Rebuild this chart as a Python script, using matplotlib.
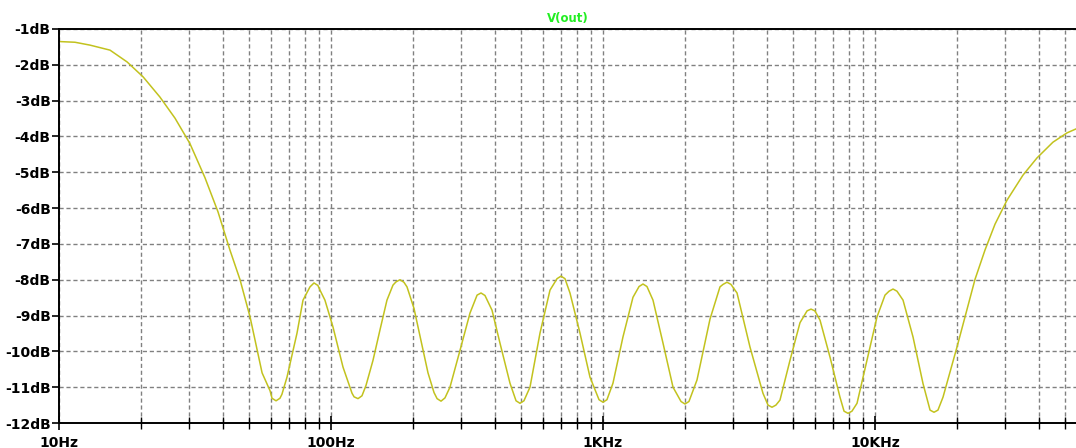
import matplotlib
matplotlib.use("Agg")
import matplotlib.pyplot as plt
from matplotlib.ticker import FixedLocator, FuncFormatter, LogLocator, NullFormatter

# frequency response
freq_hz = [10, 11.45, 13.0, 15.4, 17.8, 20.4, 23.5, 26.7, 30.3, 34.4, 38.4,
           42.5, 46.3, 50.4, 55.8, 59.7, 60.7, 62.8, 64.9, 66.0, 68.9, 75.0, 78.9, 83.7,
           86.6, 89.5, 91.1, 95.0, 101.7, 110.7, 119.5, 121.6, 125.7, 130.0, 134.5, 142.7, 151.4,
           160.6, 169.0, 173.4, 179.3, 185.4, 190.3, 201.9, 214.2, 227.3, 239.2, 245.5, 253.8,
           262.4, 273.8, 298.1, 324.4, 344.4, 356.1, 368.2, 390.8, 418.1, 455.1, 479.0, 495.3,
           512.1, 539.0, 586.7, 638.5, 677.8, 700.9, 724.7, 756.2, 823.0, 895.7, 967, 1000,
           1034, 1088, 1184, 1289, 1357, 1403, 1451, 1527, 1662, 1809, 1936, 2002, 2070,
           2216, 2474, 2692, 2763, 2857, 2954, 3110, 3471, 3874, 4043, 4181, 4323, 4474,
           4870, 5300, 5626, 5817, 6015, 6280, 6833, 7436, 7695, 7957, 8228, 8589,
           9346, 10170, 10885, 11267, 11650, 12046, 12680, 13800, 15016, 15938, 16480, 17040,
           17783, 20020, 23320, 25380, 27620, 30570, 35000, 39400, 45110, 50810, 54830]
v_out_db = [-1.35, -1.37, -1.45, -1.59, -1.92, -2.34, -2.9, -3.49, -4.2, -5.15, -6.1,
            -7.17, -8.0, -9.04, -10.6, -11.1, -11.31, -11.38, -11.31, -11.2, -10.72, -9.49, -8.57, -8.2,
            -8.09, -8.16, -8.29, -8.57, -9.32, -10.44, -11.17, -11.27, -11.32, -11.24, -10.95, -10.25, -9.4,
            -8.57, -8.15, -8.06, -8.0, -8.07, -8.2, -8.8, -9.7, -10.6, -11.15, -11.32, -11.39,
            -11.3, -11.0, -9.97, -8.93, -8.43, -8.37, -8.44, -8.85, -9.77, -10.89, -11.38, -11.45,
            -11.38, -11.0, -9.49, -8.29, -7.97, -7.9, -7.97, -8.37, -9.49, -10.72, -11.35, -11.42,
            -11.35, -10.89, -9.6, -8.49, -8.19, -8.12, -8.19, -8.57, -9.77, -11.0, -11.4, -11.47, -11.4,
            -10.8, -9.1, -8.2, -8.13, -8.07, -8.13, -8.37, -9.88, -11.17, -11.5, -11.56, -11.5, -11.36,
            -10.25, -9.2, -8.87, -8.82, -8.87, -9.13, -10.16, -11.28, -11.67, -11.73, -11.67, -11.45,
            -10.25, -9.04, -8.43, -8.32, -8.26, -8.32, -8.57, -9.6, -10.9, -11.64, -11.7, -11.64,
            -11.28, -9.88, -7.99, -7.17, -6.45, -5.78, -5.08, -4.6, -4.16, -3.9, -3.79]

x_ticks = [10, 100, 1000, 10000]
x_labels = ["10Hz", "100Hz", "1KHz", "10KHz"]
y_ticks = [-1, -2, -3, -4, -5, -6, -7, -8, -9, -10, -11, -12]

fig = plt.figure(figsize=(10.76, 4.48), dpi=100)
ax = fig.add_axes([59 / 1076, 25 / 448, 1 - 59 / 1076, 394 / 448])

ax.plot(freq_hz, v_out_db, color="#c2c21e", lw=1.1, solid_joinstyle="round")

ax.set_xscale("log")
ax.set_xlim(10, 54830)
ax.set_ylim(-12, -1)

ax.xaxis.set_major_locator(FixedLocator(x_ticks))
ax.xaxis.set_major_formatter(FuncFormatter(lambda v, p: x_labels[x_ticks.index(round(v))] if round(v) in x_ticks else ""))
ax.xaxis.set_minor_locator(LogLocator(base=10, subs=range(2, 10)))
ax.xaxis.set_minor_formatter(NullFormatter())
ax.yaxis.set_major_locator(FixedLocator(y_ticks))
ax.yaxis.set_major_formatter(FuncFormatter(lambda v, p: "%ddB" % round(v)))

grid_style = dict(color="#808080", lw=1.0, dashes=(3, 2))
ax.grid(True, which="major", **grid_style)
ax.grid(True, which="minor", axis="x", **grid_style)

for side in ["left", "bottom", "top"]:
    ax.spines[side].set_color("black")
    ax.spines[side].set_linewidth(1.4)
ax.spines["right"].set_visible(False)

ax.tick_params(axis="y", which="major", direction="out", length=5, width=1.2, pad=1, labelsize=10)
ax.tick_params(axis="x", which="major", direction="inout", length=10, width=1.2, pad=4, labelsize=10)
ax.tick_params(axis="x", which="minor", direction="inout", length=8, width=1.0)
for lbl in ax.get_xticklabels() + ax.get_yticklabels():
    lbl.set_fontweight("bold")

ax.set_title("V(out)", color="#22ee22", fontsize=8.5, fontweight="bold", pad=5)

fig.savefig("out.png", dpi=100)
